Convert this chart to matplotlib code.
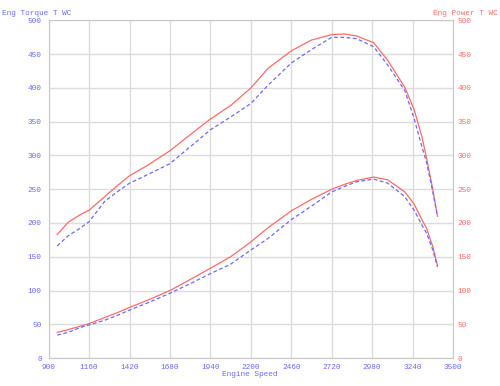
import matplotlib
matplotlib.use("Agg")
import matplotlib.pyplot as plt

# engine speed samples (rpm)
rpm = [955, 1025, 1100, 1160, 1260, 1340, 1420, 1540, 1680, 1800, 1940, 2070,
       2200, 2310, 2460, 2590, 2720, 2800, 2880, 2990, 3080, 3190, 3250, 3300,
       3330, 3370, 3400]

torque_red = [183, 201, 212, 219, 239, 255, 270, 286, 307, 329, 354, 374,
              400, 429, 455, 471, 479, 480, 477, 467, 441, 401, 368, 328,
              296, 250, 210]
torque_blue = [166, 181, 192, 202, 232, 246, 259, 272, 288, 311, 338, 357,
               377, 404, 437, 457, 475, 475, 473, 461, 434, 396, 355, 313,
               290, 246, 210]
power_red = [38, 42, 47, 51, 60, 67, 75, 86, 100, 115, 133, 150,
             172, 193, 218, 235, 250, 257, 263, 268, 264, 246, 228, 205,
             192, 165, 137]
power_blue = [34, 38, 45, 49, 56, 63, 71, 82, 96, 109, 125, 139,
              160, 177, 205, 225, 246, 254, 261, 265, 259, 239, 219, 197,
              185, 160, 135]

x_ticks = [900, 1160, 1420, 1680, 1940, 2200, 2460, 2720, 2980, 3240, 3500]
y_ticks = list(range(0, 501, 50))

BLUE = "#6a6aff"
RED = "#ff6a6a"
GRID = "#dcdcdc"
FONT = "Liberation Mono"
FS = 5.6

fig = plt.figure(figsize=(5, 3.86), dpi=100)
ax = fig.add_axes([0.0974, 0.0725, 0.8086, 0.8745])

ax.plot(rpm, torque_red, color=RED, lw=0.9)
ax.plot(rpm, power_red, color=RED, lw=0.9)
ax.plot(rpm, torque_blue, color=BLUE, lw=0.9, ls=(0, (3, 2)))
ax.plot(rpm, power_blue, color=BLUE, lw=0.9, ls=(0, (3, 2)))

ax.set_xlim(900, 3500)
ax.set_ylim(0, 500)
ax.set_xticks(x_ticks)
ax.set_yticks(y_ticks)
ax.grid(True, color=GRID, lw=1)
ax.set_axisbelow(True)
for s in ax.spines.values():
    s.set_color("#c8c8c8")
ax.tick_params(axis="y", length=0, pad=5, labelsize=FS, colors=BLUE)
ax.tick_params(axis="x", length=0, pad=4, labelsize=FS, colors=BLUE)
for lbl in ax.get_xticklabels() + ax.get_yticklabels():
    lbl.set_fontfamily(FONT)

ax2 = ax.twinx()
ax2.set_ylim(0, 500)
ax2.set_yticks(y_ticks)
ax2.tick_params(length=0, pad=3, labelsize=FS, colors=RED)
for lbl in ax2.get_yticklabels():
    lbl.set_fontfamily(FONT)
for s in ax2.spines.values():
    s.set_visible(False)

fig.text(0.005, 0.966, "Eng Torque T WC", color=BLUE, fontsize=FS,
         family=FONT, ha="left", va="center")
fig.text(0.996, 0.966, "Eng Power T WC", color=RED, fontsize=FS,
         family=FONT, ha="right", va="center")
fig.text(0.5, 0.029, "Engine Speed", color=BLUE, fontsize=FS,
         family=FONT, ha="center", va="center")

fig.savefig("out.png", dpi=100)
